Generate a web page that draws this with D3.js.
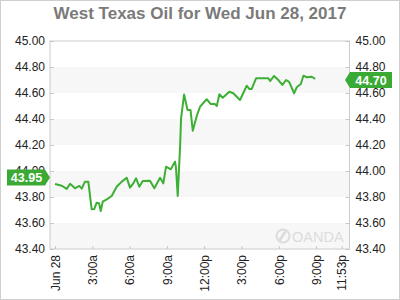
<!DOCTYPE html>
<html><head><meta charset="utf-8">
<script src="https://cdn.jsdelivr.net/npm/d3@7"></script>
<style>body{margin:0;background:#fff}svg{display:block;font-family:"Liberation Sans",Arial,sans-serif}</style>
</head><body><svg id="c" width="400" height="300"></svg>
<script>
const title = "West Texas Oil for Wed Jun 28, 2017";
const hours = [0,0.40,0.59,0.94,1.21,1.61,1.95,2.15,2.41,2.68,2.95,3.16,3.35,3.54,3.68,3.84,4.16,4.56,4.96,5.37,5.77,6.03,6.30,6.52,6.78,7.06,7.64,7.99,8.45,8.71,8.93,9.31,9.65,9.73,9.87,10.06,10.14,10.38,10.66,10.90,11.08,11.40,11.67,12.20,12.53,12.87,13.01,13.22,13.49,14.02,14.34,14.88,15.42,15.63,15.82,16.17,17.16,17.30,17.62,17.96,18.29,18.58,18.83,19.23,19.44,19.77,19.98,20.25,20.65,20.92];
const prices = [43.90,43.89,43.885,43.862,43.902,43.867,43.885,43.864,43.918,43.918,43.705,43.708,43.756,43.752,43.692,43.764,43.782,43.808,43.879,43.918,43.948,43.872,43.905,43.944,43.879,43.923,43.925,43.867,43.948,43.905,44.033,44.013,44.072,44.025,43.808,44.187,44.405,44.588,44.469,44.469,44.310,44.423,44.495,44.552,44.515,44.515,44.500,44.590,44.564,44.610,44.598,44.546,44.656,44.631,44.631,44.713,44.713,44.692,44.731,44.700,44.662,44.700,44.685,44.598,44.644,44.669,44.733,44.721,44.725,44.708];
const yTicks = [43.40,43.60,43.80,44.00,44.20,44.40,44.60,44.80,45.00];
const bands = [[43.40,43.60],[43.80,44.00],[44.20,44.40],[44.60,44.80]];
const xTickHours = [0,3,6,9,12,15,18,21,23.05];
const xTickLabels = ["Jun 28","3:00a","6:00a","9:00a","12:00p","3:00p","6:00p","9:00p","11:53p"];
const openPrice = 43.95, lastPrice = 44.70;

const svg = d3.select("#c");
const L = 50, R = 349.5, T = 41, B = 249;
const x = d3.scaleLinear().domain([0, 3]).range([55, 92.3]);
const y = d3.scaleLinear().domain([43.4, 45.0]).range([B, T]);

svg.append("rect").attr("x",0.5).attr("y",0.5).attr("width",399).attr("height",299)
  .attr("fill","#fff").attr("stroke","#cfcfcf");

svg.append("text").attr("x",200).attr("y",19).attr("text-anchor","middle")
  .attr("font-size","17px").attr("font-weight","bold").attr("fill","#7a7a7a").text(title);

svg.append("g").selectAll("rect").data(bands).join("rect")
  .attr("x",L).attr("width",R-L).attr("y",d=>y(d[1])).attr("height",d=>y(d[0])-y(d[1]))
  .attr("fill","#f7f7f7");

// watermark
const wm = svg.append("g").attr("fill","#dcdcdc");
wm.append("circle").attr("cx",283).attr("cy",236).attr("r",6.5).attr("fill","none").attr("stroke","#dcdcdc").attr("stroke-width",2);
wm.append("path").attr("d","M279.5 240.5 L285.5 231.5").attr("stroke","#dcdcdc").attr("stroke-width",3);
wm.append("text").attr("x",292).attr("y",242).attr("font-size","14.5px").text("OANDA");

svg.append("rect").attr("x",L).attr("y",T).attr("width",R-L).attr("height",B-T)
  .attr("fill","none").attr("stroke","#cccccc");

// y axes
const yl = svg.append("g").attr("transform",`translate(${L},0)`)
  .call(d3.axisLeft(y).tickValues(yTicks).tickFormat(d3.format(".2f")).tickSize(-4).tickPadding(5));
const yr = svg.append("g").attr("transform",`translate(${R},0)`)
  .call(d3.axisRight(y).tickValues(yTicks).tickFormat(d3.format(".2f")).tickSize(-4).tickPadding(6));
[yl,yr].forEach(g=>{
  g.select(".domain").remove();
  g.selectAll("line").attr("stroke","#c8c8c8");
  g.selectAll("text").attr("font-size","12px").attr("fill","#222").attr("font-family","Liberation Sans, Arial");
});

// x axis
const xa = svg.append("g").attr("transform",`translate(0,${B})`)
  .call(d3.axisBottom(x).tickValues(xTickHours).tickFormat((d,i)=>xTickLabels[i]).tickSize(-3));
xa.select(".domain").remove();
xa.selectAll("line").attr("stroke","#c8c8c8");
xa.selectAll("text").attr("font-size","12px").attr("fill","#222").attr("font-family","Liberation Sans, Arial")
  .attr("text-anchor","end").attr("transform","rotate(-90)").attr("x",-6).attr("y",0).attr("dy","0.35em");

// line
const line = d3.line().x((d,i)=>x(hours[i])).y(d=>y(d));
svg.append("path").datum(prices).attr("d",line).attr("fill","none")
  .attr("stroke","#3daf35").attr("stroke-width",2).attr("stroke-linejoin","round");

// price labels
const green = "#3aaa35";
const yo = y(openPrice);
svg.append("path").attr("d",`M7,${yo-8} L45,${yo-8} L50,${yo} L45,${yo+8} L7,${yo+8} Z`).attr("fill",green);
svg.append("text").attr("x",26.5).attr("y",yo).attr("dy","0.36em").attr("text-anchor","middle")
  .attr("font-size","12.5px").attr("font-weight","bold").attr("fill","#fff").text(openPrice.toFixed(2));
const yc = y(lastPrice);
svg.append("path").attr("d",`M345,${yc} L350,${yc-8} L392,${yc-8} L392,${yc+8} L350,${yc+8} Z`).attr("fill",green);
svg.append("text").attr("x",371).attr("y",yc).attr("dy","0.36em").attr("text-anchor","middle")
  .attr("font-size","12.5px").attr("font-weight","bold").attr("fill","#fff").text(lastPrice.toFixed(2));
</script></body></html>
